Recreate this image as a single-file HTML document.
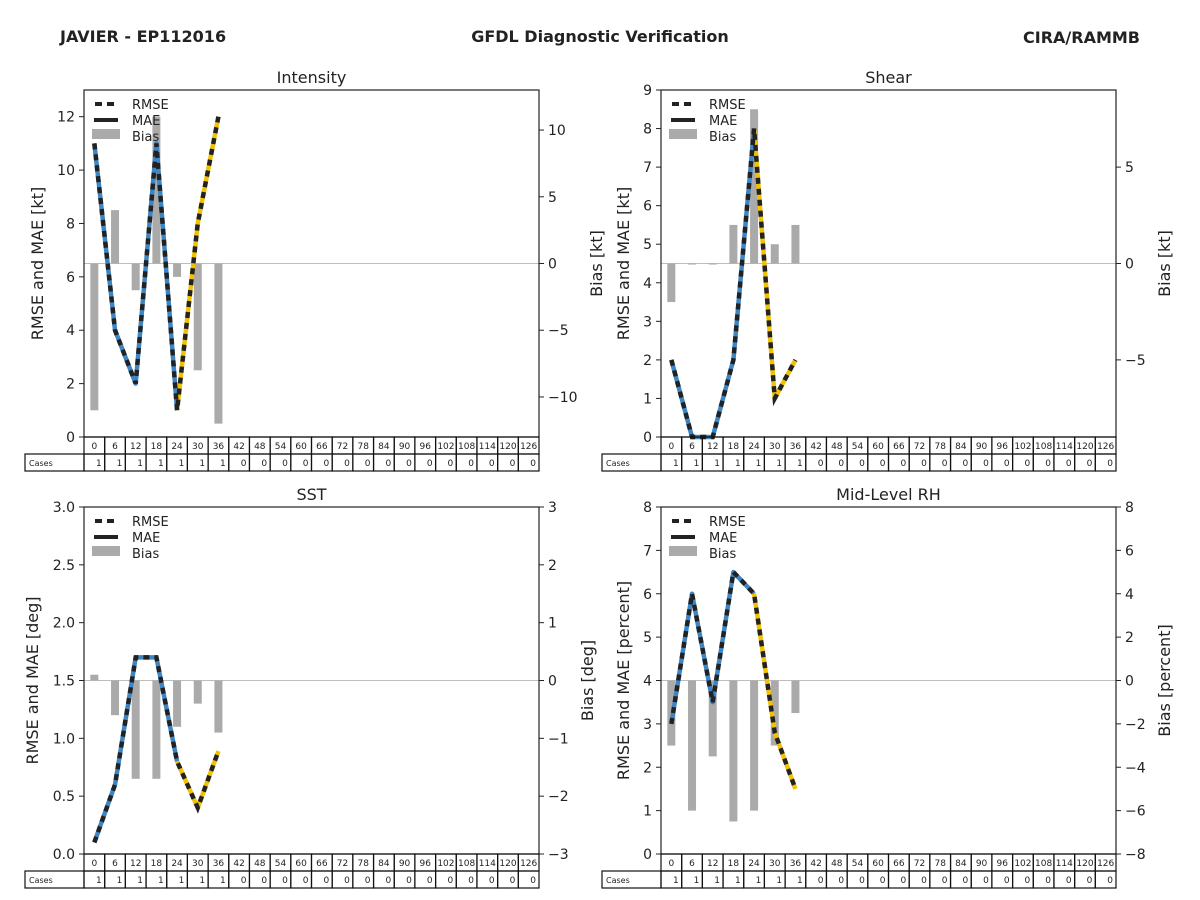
<!DOCTYPE html>
<html><head><meta charset="utf-8"><style>
html,body{margin:0;padding:0;background:#fff;width:1200px;height:900px;overflow:hidden}
svg text{font-family:"DejaVu Sans","Liberation Sans",sans-serif;fill:#222}
</style></head><body>
<svg id="svg" width="1200" height="900" viewBox="0 0 1200 900" xmlns="http://www.w3.org/2000/svg">
<text x="60" y="42" font-size="16" font-weight="bold">JAVIER - EP112016</text>
<text x="600" y="42" font-size="16" font-weight="bold" text-anchor="middle">GFDL Diagnostic Verification</text>
<text x="1140" y="43" font-size="16" font-weight="bold" text-anchor="end">CIRA/RAMMB</text>
</svg>
<script>
const hours=[0,6,12,18,24,30,36,42,48,54,60,66,72,78,84,90,96,102,108,114,120,126];
const cases=[1,1,1,1,1,1,1,0,0,0,0,0,0,0,0,0,0,0,0,0,0,0];
const intRmse=[11,4,2,11,1,8,12];
const intBias=[-11,4,-2,11,-1,-8,-12];
const shrRmse=[2,0,0,2,8,1,2];
const shrBias=[-2,0,0,2,8,1,2];
const sstRmse=[0.1,0.6,1.7,1.7,0.8,0.4,0.89];
const sstBias=[0.1,-0.6,-1.7,-1.7,-0.8,-0.4,-0.9];
const rhRmse=[3,6,3.5,6.5,6,2.8,1.5];
const rhBias=[-3,-6,-3.5,-6.5,-6,-3,-1.5];
const intTicks=[0,2,4,6,8,10,12], intBTicks=[-10,-5,0,5,10];
const shrTicks=[0,1,2,3,4,5,6,7,8,9], shrBTicks=[-5,0,5];
const sstTicks=[0,0.5,1,1.5,2,2.5,3], sstBTicks=[-3,-2,-1,0,1,2,3];
const rhTicks=[0,1,2,3,4,5,6,7,8], rhBTicks=[-8,-6,-4,-2,0,2,4,6,8];

const svg=document.getElementById('svg');
const NS='http://www.w3.org/2000/svg';
function mk(tag,attrs,parent){const e=document.createElementNS(NS,tag);for(const k in attrs)e.setAttribute(k,attrs[k]);(parent||svg).appendChild(e);return e;}

function panel(o){
  const g=mk('g',{});
  
  
  const L=o.x,R=o.x+455,T=o.y,B=o.y+347,W=R-L,H=B-T;
  const cw=W/hours.length;
  const xs=i=>L+(i+0.5)*cw;
  const yl=v=>B-(v-o.lmin)/(o.lmax-o.lmin)*H;
  const yr=v=>B-(v-o.rmin)/(o.rmax-o.rmin)*H;
  const z=mk('line',{x1:L,x2:R,y1:yr(0),y2:yr(0),stroke:'#bdbdbd','stroke-width':1},g);
  
  
  o.bias.forEach((v,i)=>{
    const y0=yr(0),y1=yr(v);
    const r=mk('rect',{x:xs(i)-4,y:Math.min(y0,y1),width:8,height:Math.max(Math.abs(y1-y0),1),fill:'#aaaaaa'},g);
    
    
  });
  const pts=o.rmse.map((v,i)=>[xs(i),yl(v)]);
  const blue=pts.slice(0,5).map(p=>p.join(',')).join(' ');
  const yel=pts.slice(4).map(p=>p.join(',')).join(' ');
  const pb=mk('polyline',{points:blue,fill:'none',stroke:'#3a86c6','stroke-width':4.5,'stroke-linejoin':'round'},g);
  
  
  const py=mk('polyline',{points:yel,fill:'none',stroke:'#f2c200','stroke-width':4.5,'stroke-linejoin':'round'},g);
  
  
  const pd=mk('polyline',{points:pts.map(p=>p.join(',')).join(' '),fill:'none',stroke:'#222','stroke-width':4.5,'stroke-dasharray':'6,5'},g);
  
  
  const f=mk('rect',{x:L,y:T,width:W,height:H,fill:'none',stroke:'#222','stroke-width':1.2},g);
  
  
  o.lt.forEach(v=>{
    const y=yl(v);
    mk('line',{x1:L-5,x2:L,y1:y,y2:y,stroke:'#222'},g);
    const t=mk('text',{x:L-9,y:y+5,'font-size':14,'text-anchor':'end'},g);
    t.textContent=o.lfmt?v.toFixed(1):v;
    
    
  });
  o.rt.forEach(v=>{
    const y=yr(v);
    mk('line',{x1:R,x2:R+5,y1:y,y2:y,stroke:'#222'},g);
    const t=mk('text',{x:R+9,y:y+5,'font-size':14},g);
    t.textContent=v<0?'\u2212'+(-v):v;
    
    
  });
  const tt=mk('text',{x:(L+R)/2,y:T-7,'font-size':16,'text-anchor':'middle'},g);
  tt.textContent=o.title;
  
  
  const ly=mk('text',{x:0,y:0,'font-size':16,'text-anchor':'middle',transform:`translate(${o.lyx},${(T+B)/2}) rotate(-90)`},g);
  ly.textContent=o.lylab;
  
  
  const ry=mk('text',{x:0,y:0,'font-size':16,'text-anchor':'middle',transform:`translate(${o.ryx},${(T+B)/2}) rotate(-90)`},g);
  ry.textContent=o.rylab;
  
  
  const lg=mk('g',{},g);
  
  
  mk('line',{x1:L+11,x2:L+31,y1:T+14,y2:T+14,stroke:'#222','stroke-width':4,'stroke-dasharray':'7,5'},lg);
  mk('line',{x1:L+10,x2:L+34,y1:T+30,y2:T+30,stroke:'#222','stroke-width':4},lg);
  mk('rect',{x:L+8,y:T+39,width:28,height:10,fill:'#aaa'},lg);
  [['RMSE',T+19],['MAE',T+35],['Bias',T+51]].forEach(a=>{const t=mk('text',{x:L+48,y:a[1],'font-size':13},lg);t.textContent=a[0];});
  const tb=mk('g',{},g);
  
  
  const r1=B,r2=B+17;
  mk('rect',{x:L-59,y:r2,width:59,height:17,fill:'none',stroke:'#111','stroke-width':1.2},tb);
  const cl=mk('text',{x:L-55,y:r2+12,'font-size':8},tb);cl.textContent='Cases';
  hours.forEach((h,i)=>{
    const x0=L+i*cw;
    mk('rect',{x:x0,y:r1,width:cw,height:17,fill:'none',stroke:'#111','stroke-width':1.2},tb);
    mk('rect',{x:x0,y:r2,width:cw,height:17,fill:'none',stroke:'#111','stroke-width':1.2},tb);
    const a=mk('text',{x:x0+cw/2,y:r1+12,'font-size':9,'text-anchor':'middle'},tb);a.textContent=h;
    const b=mk('text',{x:x0+cw-3,y:r2+12,'font-size':9,'text-anchor':'end'},tb);b.textContent=cases[i];
  });
}
panel({name:'intensity',x:84,y:90,title:'Intensity',rmse:intRmse,bias:intBias,lmin:0,lmax:13,rmin:-13,rmax:13,lt:intTicks,rt:intBTicks,lylab:'RMSE and MAE [kt]',rylab:'Bias [kt]',lyx:43,ryx:602});
panel({name:'shear',x:661,y:90,title:'Shear',rmse:shrRmse,bias:shrBias,lmin:0,lmax:9,rmin:-9,rmax:9,lt:shrTicks,rt:shrBTicks,lylab:'RMSE and MAE [kt]',rylab:'Bias [kt]',lyx:629,ryx:1170});
panel({name:'sst',x:84,y:507,title:'SST',rmse:sstRmse,bias:sstBias,lmin:0,lmax:3,rmin:-3,rmax:3,lt:sstTicks,rt:sstBTicks,lfmt:true,lylab:'RMSE and MAE [deg]',rylab:'Bias [deg]',lyx:38,ryx:593});
panel({name:'mid-level-rh',x:661,y:507,title:'Mid-Level RH',rmse:rhRmse,bias:rhBias,lmin:0,lmax:8,rmin:-8,rmax:8,lt:rhTicks,rt:rhBTicks,lylab:'RMSE and MAE [percent]',rylab:'Bias [percent]',lyx:629,ryx:1170});
</script>
</body></html>
